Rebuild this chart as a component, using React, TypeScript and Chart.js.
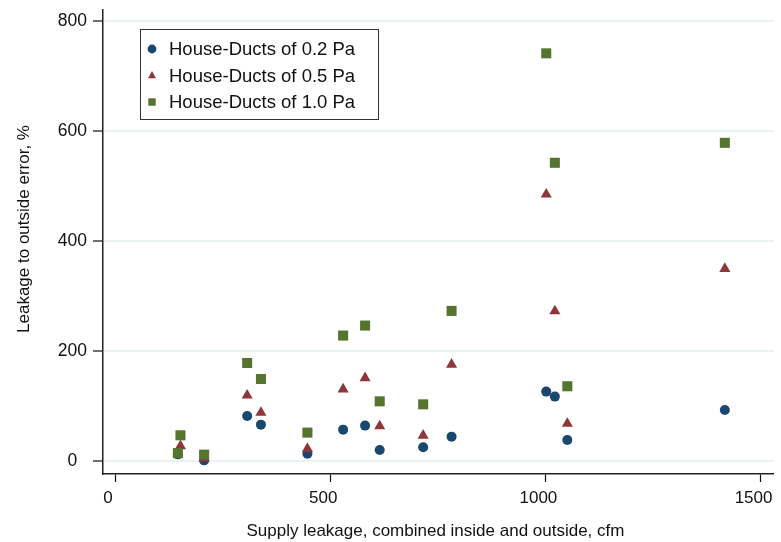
import React, { useEffect, useRef } from 'react';
import { Chart, registerables } from 'chart.js';

Chart.register(...registerables);

// Supply leakage (cfm), one entry per house
const supplyLeakage = [146, 152, 207, 307, 339, 447, 530, 581, 615, 716, 782, 1002, 1022, 1051, 1417];
// Leakage to outside error (%)
const ducts02 = [12.7, null, 1.8, 82.4, 66.7, 14, 57.6, 64.9, 20.5, 25.5, 44.9, 126.7, 117.6, 38.7, 93.3];
const ducts05 = [null, 28, 5, 120, 88.5, 23, 131, 151.5, 64, 47, 176, 485, 273, 68.5, 350];
const ducts10 = [15, 47.3, 12.2, 178.7, 149.6, 52.2, 228.5, 246.7, 109, 103.6, 273.3, 741.3, 542.4, 136.4, 578.7];

const seriesLabels = ['House-Ducts of 0.2 Pa', 'House-Ducts of 0.5 Pa', 'House-Ducts of 1.0 Pa'];
const xTickValues = [0, 500, 1000, 1500];
const yTickValues = [0, 200, 400, 600, 800];
const xTitle = 'Supply leakage, combined inside and outside, cfm';
const yTitle = 'Leakage to outside error, %';

const FONT = '"Liberation Sans", Arial, Helvetica, sans-serif';
const colors = ['#1a476f', '#90353b', '#55752f'];
const styles = ['circle', 'triangle', 'rect'];

const toPoints = (ys: (number | null)[]) =>
  supplyLeakage
    .map((x, i) => ({ x, y: ys[i] }))
    .filter((p) => p.y !== null) as { x: number; y: number }[];

function drawMarker(ctx: CanvasRenderingContext2D, style: string, x: number, y: number, color: string) {
  ctx.fillStyle = color;
  ctx.beginPath();
  if (style === 'circle') {
    ctx.arc(x, y, 4.4, 0, Math.PI * 2);
  } else if (style === 'triangle') {
    const r = 4.6;
    ctx.moveTo(x, y - r);
    ctx.lineTo(x + r * 0.866, y + r / 2 + 0.5);
    ctx.lineTo(x - r * 0.866, y + r / 2 + 0.5);
    ctx.closePath();
  } else {
    ctx.rect(x - 3.7, y - 3.7, 7.4, 7.4);
  }
  ctx.fill();
}

const boxLegend = {
  id: 'boxLegend',
  afterDraw(chart: any) {
    const { ctx, chartArea } = chart;
    const x0 = chartArea.left + 37;
    const y0 = chartArea.top + 19;
    const w = 238;
    const h = 90;
    ctx.save();
    ctx.fillStyle = '#ffffff';
    ctx.fillRect(x0, y0, w, h);
    ctx.strokeStyle = '#333333';
    ctx.lineWidth = 1;
    ctx.strokeRect(x0 + 0.5, y0 + 0.5, w, h);
    ctx.font = `18.5px ${FONT}`;
    ctx.textBaseline = 'middle';
    ctx.textAlign = 'left';
    seriesLabels.forEach((label, i) => {
      const cy = y0 + 20 + i * 26.5;
      drawMarker(ctx, styles[i], x0 + 12, cy, colors[i]);
      ctx.fillStyle = '#111111';
      ctx.fillText(label, x0 + 29, cy + 1);
    });
    ctx.restore();
  },
};

// Axis titles, placed like the original (Stata-style) figure
const axisTitles = {
  id: 'axisTitles',
  afterDraw(chart: any) {
    const { ctx, chartArea, height } = chart;
    ctx.save();
    ctx.fillStyle = '#111111';
    ctx.font = `17px ${FONT}`;
    ctx.textAlign = 'center';
    ctx.textBaseline = 'alphabetic';
    ctx.fillText(xTitle, (chartArea.left + chartArea.right) / 2 - 3, height - 6.5);
    ctx.translate(28.5, chartArea.top + 219);
    ctx.rotate(-Math.PI / 2);
    ctx.fillText(yTitle, 0, 0);
    ctx.restore();
  },
};

const zeroPad = (axis: any) => {
  axis.paddingTop = 0;
  axis.paddingBottom = 0;
  axis.paddingLeft = 0;
  axis.paddingRight = 0;
};

export default function App() {
  const canvasRef = useRef<HTMLCanvasElement | null>(null);

  useEffect(() => {
    document.body.style.margin = '0';
    const canvas = canvasRef.current;
    if (!canvas) return;
    const radii = [5, 6.4, 7.1];
    const orders = [3, 2, 1];
    const chart = new Chart(canvas, {
      type: 'scatter',
      data: {
        datasets: [ducts02, ducts05, ducts10].map((ys, i) => ({
          label: seriesLabels[i],
          data: toPoints(ys),
          pointStyle: styles[i] as any,
          pointRadius: radii[i],
          pointHoverRadius: radii[i],
          backgroundColor: colors[i],
          borderColor: colors[i],
          borderWidth: 0,
          order: orders[i],
        })),
      },
      options: {
        responsive: false,
        animation: false,
        events: [],
        layout: { padding: { top: 10, right: 6, left: 0, bottom: 0 } },
        plugins: {
          legend: { display: false },
          tooltip: { enabled: false },
        },
        scales: {
          x: {
            type: 'linear',
            min: -28,
            max: 1531,
            afterBuildTicks: (axis: any) => {
              axis.ticks = xTickValues.map((v) => ({ value: v }));
            },
            afterFit: (axis: any) => {
              axis.height = 68;
              zeroPad(axis);
            },
            border: { display: true, color: '#222222', width: 1.5 },
            grid: {
              display: true,
              drawOnChartArea: false,
              drawTicks: true,
              tickLength: 8,
              tickColor: '#111111',
              tickWidth: 1.2,
              color: '#111111',
            },
            ticks: {
              padding: 6,
              labelOffset: -7,
              color: '#111111',
              font: { family: FONT, size: 17 },
              maxRotation: 0,
              autoSkip: false,
              callback: (v: any) => String(v),
            },
            title: { display: false },
          },
          y: {
            type: 'linear',
            min: -23,
            max: 820,
            afterBuildTicks: (axis: any) => {
              axis.ticks = yTickValues.map((v) => ({ value: v }));
            },
            afterFit: (axis: any) => {
              axis.width = 103;
              zeroPad(axis);
            },
            border: { display: true, color: '#222222', width: 1.5 },
            grid: {
              display: true,
              drawOnChartArea: true,
              drawTicks: true,
              tickLength: 10,
              color: 'rgb(234,242,243)',
              lineWidth: 2,
              tickColor: '#111111',
              tickWidth: 1.2,
            },
            ticks: {
              padding: 6,
              crossAlign: 'center',
              color: '#111111',
              font: { family: FONT, size: 17.5 },
              autoSkip: false,
              callback: (v: any) => String(v),
            },
            title: { display: false },
          },
        },
      },
      plugins: [boxLegend, axisTitles],
    });
    return () => chart.destroy();
  }, []);

  return (
    <div style={{ width: 781, height: 542, position: 'relative' }}>
      <canvas ref={canvasRef} width={781} height={542} style={{ display: 'block' }} />
    </div>
  );
}
